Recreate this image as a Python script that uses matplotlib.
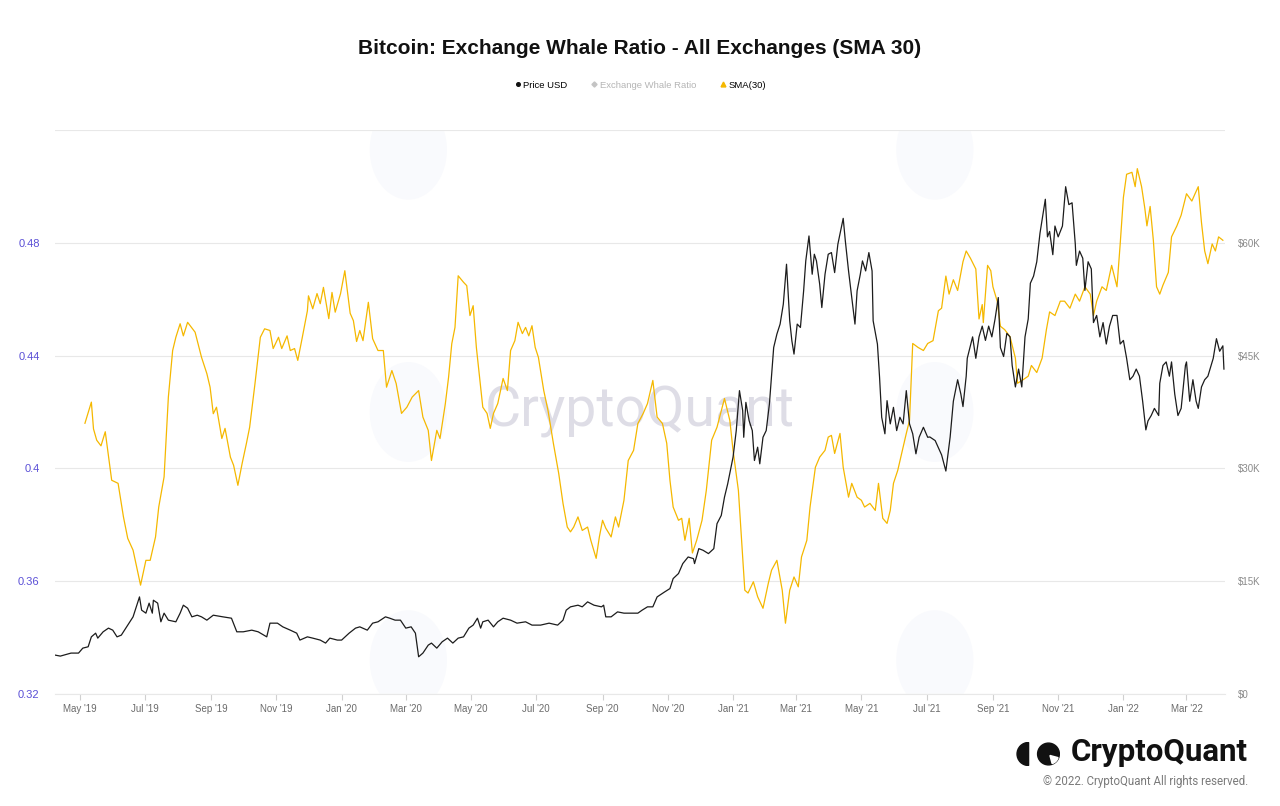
import matplotlib
matplotlib.use("Agg")
import matplotlib.pyplot as plt
import matplotlib.dates as mdates
from matplotlib.lines import Line2D
from matplotlib.patches import Wedge, Circle, Ellipse
import pandas as pd

plt.rcParams['font.family'] = ['Liberation Sans', 'DejaVu Sans']

# SMA(30) of the exchange whale ratio
sma_dates = [
    "2019-05-06", "2019-05-12", "2019-05-14", "2019-05-17", "2019-05-21", "2019-05-25", "2019-05-31",
    "2019-06-06", "2019-06-11", "2019-06-15", "2019-06-20", "2019-06-27", "2019-07-02", "2019-07-06",
    "2019-07-11", "2019-07-14", "2019-07-19", "2019-07-23", "2019-07-27", "2019-07-30", "2019-08-03",
    "2019-08-06", "2019-08-10", "2019-08-17", "2019-08-23", "2019-08-28", "2019-08-31", "2019-09-03",
    "2019-09-06", "2019-09-11", "2019-09-14", "2019-09-19", "2019-09-22", "2019-09-26", "2019-09-30",
    "2019-10-04", "2019-10-07", "2019-10-12", "2019-10-17", "2019-10-21", "2019-10-26", "2019-10-29",
    "2019-11-03", "2019-11-06", "2019-11-11", "2019-11-14", "2019-11-18", "2019-11-21", "2019-11-25",
    "2019-11-30", "2019-12-01", "2019-12-05", "2019-12-09", "2019-12-12", "2019-12-15", "2019-12-20",
    "2019-12-23", "2019-12-26", "2019-12-31", "2020-01-04", "2020-01-09", "2020-01-12", "2020-01-15",
    "2020-01-18", "2020-01-21", "2020-01-26", "2020-01-30", "2020-02-04", "2020-02-09", "2020-02-12",
    "2020-02-17", "2020-02-21", "2020-02-26", "2020-03-02", "2020-03-07", "2020-03-13", "2020-03-17",
    "2020-03-22", "2020-03-25", "2020-03-30", "2020-04-02", "2020-04-07", "2020-04-10", "2020-04-13",
    "2020-04-16", "2020-04-19", "2020-04-24", "2020-04-27", "2020-04-30", "2020-05-03", "2020-05-06",
    "2020-05-09", "2020-05-12", "2020-05-16", "2020-05-19", "2020-05-22", "2020-05-26", "2020-05-31",
    "2020-06-04", "2020-06-07", "2020-06-11", "2020-06-14", "2020-06-18", "2020-06-21", "2020-06-24",
    "2020-06-27", "2020-06-30", "2020-07-03", "2020-07-08", "2020-07-12", "2020-07-17", "2020-07-22",
    "2020-07-26", "2020-07-30", "2020-08-02", "2020-08-05", "2020-08-09", "2020-08-13", "2020-08-18",
    "2020-08-21", "2020-08-26", "2020-08-29", "2020-09-01", "2020-09-04", "2020-09-09", "2020-09-13",
    "2020-09-16", "2020-09-21", "2020-09-25", "2020-09-30", "2020-10-04", "2020-10-09", "2020-10-13",
    "2020-10-18", "2020-10-22", "2020-10-27", "2020-10-31", "2020-11-03", "2020-11-06", "2020-11-11",
    "2020-11-14", "2020-11-17", "2020-11-21", "2020-11-24", "2020-11-28", "2020-12-03", "2020-12-07",
    "2020-12-12", "2020-12-17", "2020-12-21", "2020-12-24", "2020-12-29", "2021-01-01", "2021-01-06",
    "2021-01-09", "2021-01-12", "2021-01-15", "2021-01-20", "2021-01-24", "2021-01-29", "2021-02-03",
    "2021-02-06", "2021-02-11", "2021-02-16", "2021-02-19", "2021-02-23", "2021-02-27", "2021-03-03",
    "2021-03-06", "2021-03-11", "2021-03-14", "2021-03-19", "2021-03-23", "2021-03-28", "2021-03-31",
    "2021-04-03", "2021-04-06", "2021-04-11", "2021-04-14", "2021-04-19", "2021-04-22", "2021-04-27",
    "2021-05-01", "2021-05-04", "2021-05-09", "2021-05-14", "2021-05-17", "2021-05-21", "2021-05-25",
    "2021-05-28", "2021-05-31", "2021-06-04", "2021-06-09", "2021-06-12", "2021-06-15", "2021-06-18",
    "2021-06-23", "2021-06-28", "2021-07-02", "2021-07-07", "2021-07-12", "2021-07-15", "2021-07-19",
    "2021-07-22", "2021-07-26", "2021-07-30", "2021-08-04", "2021-08-07", "2021-08-11", "2021-08-16",
    "2021-08-19", "2021-08-22", "2021-08-23", "2021-08-27", "2021-08-30", "2021-09-01", "2021-09-05",
    "2021-09-08", "2021-09-12", "2021-09-17", "2021-09-22", "2021-09-24", "2021-09-29", "2021-10-04",
    "2021-10-07", "2021-10-12", "2021-10-17", "2021-10-21", "2021-10-24", "2021-10-29", "2021-11-03",
    "2021-11-07", "2021-11-12", "2021-11-17", "2021-11-21", "2021-11-26", "2021-12-01", "2021-12-04",
    "2021-12-07", "2021-12-12", "2021-12-16", "2021-12-21", "2021-12-26", "2021-12-29", "2022-01-01",
    "2022-01-04", "2022-01-09", "2022-01-12", "2022-01-14", "2022-01-18", "2022-01-21", "2022-01-23",
    "2022-01-26", "2022-01-29", "2022-02-01", "2022-02-04", "2022-02-07", "2022-02-12", "2022-02-15",
    "2022-02-20", "2022-02-24", "2022-03-01", "2022-03-06", "2022-03-09", "2022-03-12", "2022-03-15",
    "2022-03-18", "2022-03-21", "2022-03-25", "2022-03-28", "2022-03-31", "2022-04-04",
]
sma_values = [
    0.416, 0.4235, 0.414, 0.410, 0.408, 0.413, 0.3958,
    0.3947, 0.3828, 0.3752, 0.371, 0.3586, 0.3674, 0.3674,
    0.3757, 0.3863, 0.397, 0.4253, 0.4418, 0.4465, 0.4513,
    0.447, 0.4518, 0.4483, 0.4394, 0.4336, 0.4288, 0.4194,
    0.4217, 0.4106, 0.4142, 0.404, 0.4011, 0.394, 0.4018,
    0.4089, 0.4146, 0.4301, 0.4465, 0.4495, 0.4489, 0.4425,
    0.4465, 0.4425, 0.447, 0.4418, 0.4425, 0.4383, 0.446,
    0.4559, 0.4612, 0.4566, 0.462, 0.4584, 0.4642, 0.4531,
    0.4624, 0.4554, 0.462, 0.4701, 0.455, 0.4524, 0.445,
    0.4489, 0.4453, 0.4589, 0.446, 0.4418, 0.4418, 0.4288,
    0.4347, 0.4301, 0.4195, 0.4217, 0.4253, 0.4276, 0.4182,
    0.4135, 0.4028, 0.4135, 0.4106, 0.423, 0.4323, 0.4442,
    0.45, 0.4683, 0.466, 0.4648, 0.4542, 0.4577, 0.4429,
    0.4323, 0.4217, 0.4195, 0.4142, 0.4195, 0.423, 0.4319,
    0.4276, 0.4418, 0.4453, 0.4518, 0.4478, 0.45, 0.447,
    0.4506, 0.4429, 0.4394, 0.4276, 0.4205, 0.4089, 0.3982,
    0.3876, 0.3792, 0.3775, 0.3792, 0.3828, 0.378, 0.3792,
    0.3745, 0.3681, 0.3757, 0.3816, 0.3788, 0.3757, 0.3828,
    0.3792, 0.3887, 0.4028, 0.4064, 0.4159, 0.4195, 0.423,
    0.4312, 0.4182, 0.4159, 0.4089, 0.3958, 0.3863, 0.3816,
    0.3823, 0.3745, 0.3823, 0.370, 0.3745, 0.3816, 0.3922,
    0.41, 0.4146, 0.4205, 0.4248, 0.417, 0.4064, 0.3922,
    0.3745, 0.3568, 0.3558, 0.3598, 0.3545, 0.3504, 0.3593,
    0.3639, 0.3674, 0.3568, 0.3451, 0.3568, 0.3615, 0.358,
    0.3686, 0.3745, 0.3863, 0.4004, 0.404, 0.4064, 0.4111,
    0.4117, 0.4053, 0.4124, 0.4004, 0.3898, 0.3947, 0.3898,
    0.3887, 0.3863, 0.3876, 0.3851, 0.3947, 0.3823, 0.3805,
    0.3851, 0.3947, 0.3993, 0.4075, 0.4124, 0.417, 0.4443,
    0.4429, 0.4418, 0.4443, 0.4453, 0.4559, 0.4568, 0.4682,
    0.4618, 0.4669, 0.4631, 0.4733, 0.4771, 0.4745, 0.4707,
    0.453, 0.4581, 0.4517, 0.472, 0.4701, 0.4644, 0.4593,
    0.4504, 0.4492, 0.4467, 0.4391, 0.4302, 0.4314, 0.4327,
    0.4365, 0.434, 0.4391, 0.4492, 0.4555, 0.4542, 0.4593,
    0.4593, 0.4568, 0.4618, 0.4593, 0.4644, 0.4618, 0.4542,
    0.4593, 0.4644, 0.4631, 0.472, 0.4644, 0.4796, 0.4961,
    0.5043, 0.505, 0.4999, 0.5063, 0.4999, 0.4923, 0.486,
    0.4929, 0.4809, 0.4644, 0.4618, 0.465, 0.4695, 0.4821,
    0.486, 0.4898, 0.4974, 0.4948, 0.4974, 0.4999, 0.4872,
    0.4771, 0.4726, 0.4796, 0.4771, 0.4821, 0.4809,
]

# BTC price in USD
price_dates = [
    "2019-04-08", "2019-04-13", "2019-04-23", "2019-04-30", "2019-05-04", "2019-05-09", "2019-05-12",
    "2019-05-16", "2019-05-18", "2019-05-23", "2019-05-28", "2019-06-01", "2019-06-05", "2019-06-09",
    "2019-06-14", "2019-06-20", "2019-06-26", "2019-06-28", "2019-07-02", "2019-07-05", "2019-07-08",
    "2019-07-09", "2019-07-13", "2019-07-16", "2019-07-19", "2019-07-23", "2019-07-30", "2019-08-03",
    "2019-08-06", "2019-08-10", "2019-08-14", "2019-08-19", "2019-08-23", "2019-08-28", "2019-09-03",
    "2019-09-12", "2019-09-20", "2019-09-25", "2019-10-01", "2019-10-09", "2019-10-15", "2019-10-23",
    "2019-10-26", "2019-11-02", "2019-11-07", "2019-11-14", "2019-11-20", "2019-11-23", "2019-11-30",
    "2019-12-05", "2019-12-12", "2019-12-17", "2019-12-21", "2019-12-28", "2020-01-01", "2020-01-08",
    "2020-01-14", "2020-01-18", "2020-01-25", "2020-01-30", "2020-02-04", "2020-02-11", "2020-02-15",
    "2020-02-20", "2020-02-25", "2020-03-01", "2020-03-06", "2020-03-10", "2020-03-13", "2020-03-17",
    "2020-03-22", "2020-03-25", "2020-03-30", "2020-04-04", "2020-04-09", "2020-04-14", "2020-04-19",
    "2020-04-24", "2020-04-29", "2020-05-03", "2020-05-07", "2020-05-10", "2020-05-12", "2020-05-17",
    "2020-05-22", "2020-05-26", "2020-05-31", "2020-06-07", "2020-06-13", "2020-06-21", "2020-06-27",
    "2020-07-05", "2020-07-13", "2020-07-21", "2020-07-26", "2020-07-29", "2020-08-02", "2020-08-09",
    "2020-08-13", "2020-08-18", "2020-08-24", "2020-08-31", "2020-09-02", "2020-09-04", "2020-09-09",
    "2020-09-15", "2020-09-21", "2020-09-27", "2020-10-04", "2020-10-08", "2020-10-13", "2020-10-18",
    "2020-10-22", "2020-10-29", "2020-11-03", "2020-11-06", "2020-11-11", "2020-11-15", "2020-11-20",
    "2020-11-25", "2020-11-26", "2020-11-30", "2020-12-04", "2020-12-09", "2020-12-14", "2020-12-17",
    "2020-12-21", "2020-12-24", "2020-12-27", "2021-01-01", "2021-01-04", "2021-01-07", "2021-01-10",
    "2021-01-11", "2021-01-13", "2021-01-16", "2021-01-19", "2021-01-21", "2021-01-24", "2021-01-26",
    "2021-01-29", "2021-02-01", "2021-02-04", "2021-02-08", "2021-02-11", "2021-02-14", "2021-02-17",
    "2021-02-20", "2021-02-23", "2021-02-25", "2021-02-27", "2021-03-02", "2021-03-05", "2021-03-08",
    "2021-03-10", "2021-03-13", "2021-03-16", "2021-03-18", "2021-03-20", "2021-03-23", "2021-03-25",
    "2021-03-28", "2021-03-31", "2021-04-03", "2021-04-06", "2021-04-09", "2021-04-14", "2021-04-16",
    "2021-04-19", "2021-04-22", "2021-04-25", "2021-04-27", "2021-04-30", "2021-05-02", "2021-05-05",
    "2021-05-08", "2021-05-11", "2021-05-12", "2021-05-16", "2021-05-18", "2021-05-20", "2021-05-23",
    "2021-05-25", "2021-05-28", "2021-05-31", "2021-06-03", "2021-06-06", "2021-06-09", "2021-06-12",
    "2021-06-15", "2021-06-18", "2021-06-21", "2021-06-24", "2021-06-28", "2021-07-02", "2021-07-04",
    "2021-07-09", "2021-07-12", "2021-07-15", "2021-07-19", "2021-07-23", "2021-07-26", "2021-07-30",
    "2021-08-02", "2021-08-04", "2021-08-07", "2021-08-08", "2021-08-13", "2021-08-16", "2021-08-19",
    "2021-08-22", "2021-08-25", "2021-08-28", "2021-08-31", "2021-09-03", "2021-09-06", "2021-09-08",
    "2021-09-11", "2021-09-14", "2021-09-17", "2021-09-19", "2021-09-22", "2021-09-25", "2021-09-28",
    "2021-10-01", "2021-10-04", "2021-10-06", "2021-10-09", "2021-10-12", "2021-10-15", "2021-10-20",
    "2021-10-22", "2021-10-24", "2021-10-27", "2021-10-29", "2021-11-01", "2021-11-05", "2021-11-08",
    "2021-11-11", "2021-11-14", "2021-11-17", "2021-11-18", "2021-11-21", "2021-11-24", "2021-11-26",
    "2021-11-29", "2021-12-02", "2021-12-04", "2021-12-07", "2021-12-10", "2021-12-13", "2021-12-16",
    "2021-12-19", "2021-12-22", "2021-12-26", "2021-12-29", "2022-01-01", "2022-01-04", "2022-01-07",
    "2022-01-10", "2022-01-13", "2022-01-16", "2022-01-19", "2022-01-22", "2022-01-24", "2022-01-27",
    "2022-01-30", "2022-02-03", "2022-02-04", "2022-02-07", "2022-02-10", "2022-02-13", "2022-02-15",
    "2022-02-18", "2022-02-21", "2022-02-24", "2022-02-28", "2022-03-01", "2022-03-04", "2022-03-07",
    "2022-03-10", "2022-03-12", "2022-03-15", "2022-03-18", "2022-03-21", "2022-03-26", "2022-03-29",
    "2022-04-01", "2022-04-04", "2022-04-05",
]
price_values = [
    5176, 5040, 5440, 5440, 6100, 6280, 7600,
    8090, 7430, 8270, 8760, 8490, 7600, 7830,
    8930, 10260, 12910, 11150, 10750, 12080, 10750,
    12470, 12080, 9600, 10750, 9820, 9600, 10750,
    11810, 11410, 10260, 10480, 10260, 9820, 10480,
    10260, 10080, 8270, 8270, 8490, 8270, 7600,
    9420, 9420, 8930, 8490, 8090, 7170, 7600,
    7430, 7170, 6770, 7430, 7170, 7170, 8090,
    8760, 8930, 8490, 9420, 9600, 10260, 10080,
    9820, 9820, 8760, 8930, 8090, 4950, 5440,
    6500, 6770, 6100, 6940, 7430, 6770, 7430,
    7600, 8760, 9160, 10080, 8760, 9600, 9820,
    8930, 9600, 10080, 9820, 9420, 9600, 9160,
    9160, 9420, 9160, 9820, 11150, 11590, 11810,
    11590, 12250, 11810, 11590, 11810, 10260, 10260,
    10920, 10750, 10750, 10750, 11150, 11590, 11590,
    12910, 13570, 14020, 15350, 16020, 17340, 18220,
    18000, 17340, 19330, 19110, 18670, 19330, 22650,
    23750, 26180, 27950, 31490, 35030, 40340, 37690,
    34140, 38780, 36360, 35030, 31050, 32820, 30610,
    34140, 35030, 38560, 46080, 47860, 49190, 51840,
    57150, 49630, 46970, 45200, 49190, 48740, 53610,
    57590, 60910, 55820, 58480, 57590, 54500, 51390,
    55820, 58480, 58700, 56040, 59800, 63250, 60240,
    56260, 52720, 49190, 53610, 55820, 57590, 56260,
    58700, 56260, 49630, 46530, 42110, 36800, 34600,
    39010, 35920, 38120, 35030, 36800, 35920, 40340,
    35920, 34600, 31940, 34140, 35470, 34140, 34180,
    33700, 32750, 31800, 29650, 34180, 38930, 41790,
    39890, 38220, 42260, 44640, 47490, 44640, 47490,
    48920, 47020, 48920, 47490, 49870, 52720, 46060,
    44880, 47960, 47490, 43690, 40830, 43210, 40830,
    47490, 49870, 54620, 55570, 57480, 61270, 65790,
    60790, 61510, 58420, 62230, 60790, 62230, 67460,
    65080, 65320, 59850, 57000, 58900, 57950, 53670,
    57480, 56520, 49390, 50340, 47490, 49390, 46540,
    48920, 50340, 50340, 46540, 47020, 44640, 41790,
    42260, 43210, 42260, 38930, 35120, 36320, 37030,
    37980, 37030, 41310, 43690, 44160, 42260, 44160,
    39890, 37030, 37980, 43690, 44160, 38930, 41790,
    38930, 37980, 40830, 41790, 42260, 44640, 47250,
    45580, 46300, 43210,
]

ratio_ticks = [0.32, 0.36, 0.40, 0.44, 0.48, 0.52]
ratio_labels = ["0.32", "0.36", "0.4", "0.44", "0.48", ""]
price_ticks = [0, 15000, 30000, 45000, 60000, 75000]
price_labels = ["$0", "$15K", "$30K", "$45K", "$60K", ""]

sma_color = "#f5b800"
price_color = "#1c1c1c"
grid_color = "#e8e8e8"

fig = plt.figure(figsize=(12.8, 8.06), dpi=100)
ax = fig.add_axes([55 / 1280, 112 / 806, 1170 / 1280, 564 / 806])
ax2 = ax.twinx()

# faint watermark behind the lines
for cx, cy in [(0.302, 0.965), (0.752, 0.965), (0.302, 0.50), (0.752, 0.50), (0.302, 0.06), (0.752, 0.06)]:
    ax.add_patch(Ellipse((cx, cy), 0.066, 0.177, transform=ax.transAxes,
                         color="#f9fafd", zorder=0, lw=0))
ax.text(0.5, 0.50, "CryptoQuant", transform=ax.transAxes, ha="center", va="center",
        fontsize=40, color="#dedde6", family=["Roboto", "DejaVu Sans"], zorder=0)

sma_x = pd.to_datetime(sma_dates)
price_x = pd.to_datetime(price_dates)
ax.plot(sma_x, sma_values, color=sma_color, lw=0.9, zorder=2)
ax2.plot(price_x, price_values, color=price_color, lw=0.9)

ax.set_ylim(0.32, 0.52)
ax.set_yticks(ratio_ticks)
ax.set_yticklabels(ratio_labels)
ax2.set_ylim(0, 75000)
ax2.set_yticks(price_ticks)
ax2.set_yticklabels(price_labels)

ax.set_xlim(pd.Timestamp("2019-04-08"), pd.Timestamp("2022-04-06"))
ax.xaxis.set_major_locator(mdates.MonthLocator(bymonth=[1, 3, 5, 7, 9, 11]))
ax.xaxis.set_major_formatter(mdates.DateFormatter("%b '%y"))

ax.grid(axis="y", color=grid_color, lw=0.8)
for a in (ax, ax2):
    for s in a.spines.values():
        s.set_visible(False)
ax.spines["bottom"].set_visible(True)
ax.spines["bottom"].set_color(grid_color)

ax.tick_params(axis="y", length=0, pad=11, labelsize=8, labelcolor="#5a4fd6")
ax2.tick_params(axis="y", length=0, pad=9, labelsize=7, labelcolor="#8a8a8a")
ax.tick_params(axis="x", length=4, color="#d0d0d0", labelsize=7, labelcolor="#6b6b6b", pad=3)

fig.text(0.5, 1 - 48 / 806, "Bitcoin: Exchange Whale Ratio - All Exchanges (SMA 30)",
         ha="center", va="center", fontsize=15, weight="bold", color="#111111")

handles = [
    Line2D([], [], ls="none", marker="o", ms=2.6, color="#111111"),
    Line2D([], [], ls="none", marker="D", ms=2.6, color="#c4c4c4"),
    Line2D([], [], ls="none", marker="^", ms=3.5, color=sma_color),
]
leg = fig.legend(handles, ["Price USD", "Exchange Whale Ratio", "SMA(30)"],
                 loc="center", bbox_to_anchor=(0.5, 1 - 85 / 806), ncol=3,
                 frameon=False, fontsize=6.8, handletextpad=0.2, columnspacing=2.4,
                 handlelength=0.8)
leg.get_texts()[1].set_color("#b5b5b5")

# brand block bottom right
logo = fig.add_axes([1016 / 1280, (806 - 768) / 806, 44 / 1280, 28 / 806])
logo.set_xlim(0, 2.1)
logo.set_ylim(0, 1.1)
logo.set_aspect("equal")
logo.axis("off")
logo.add_patch(Wedge((0.6, 0.55), 0.55, 90, 270, color="#111111"))
logo.add_patch(Circle((1.55, 0.55), 0.52, color="#111111"))
logo.add_patch(Wedge((1.62, 0.48), 0.4, 285, 345, color="white"))

fig.text(1248 / 1280, 1 - 752 / 806, "CryptoQuant", ha="right", va="center",
         fontsize=22.5, weight="bold", color="#111111", family=["Roboto", "DejaVu Sans"])
fig.text(1248 / 1280, 1 - 781 / 806, "\u00a9 2022. CryptoQuant All rights reserved.",
         ha="right", va="center", fontsize=8.3, color="#7a7a7a", family=["Roboto", "DejaVu Sans"])

fig.savefig("out.png", dpi=100, facecolor="white")
